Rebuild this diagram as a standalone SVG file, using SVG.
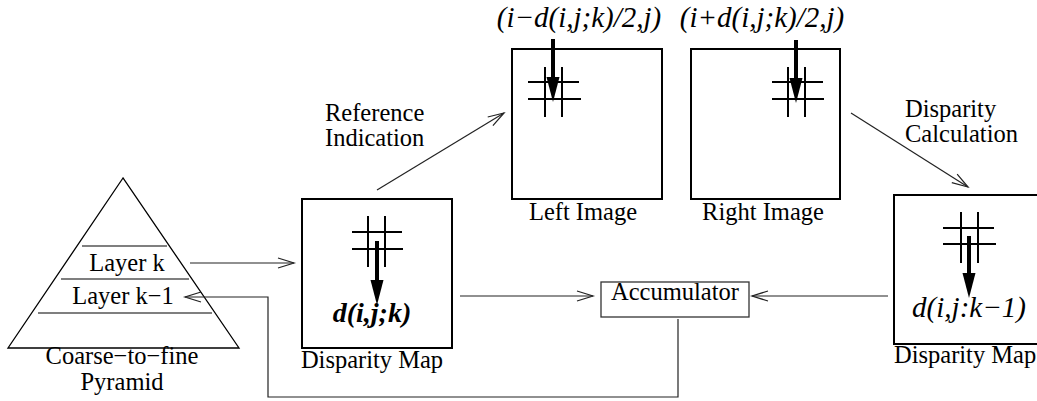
<svg xmlns="http://www.w3.org/2000/svg" width="1037" height="401" viewBox="0 0 1037 401">
<style>
text{font-family:"Liberation Serif","Times New Roman",serif;fill:#000}
.lbl{font-size:24.5px}
.mid{text-anchor:middle}
.it{font-style:italic;font-size:29px}
.bi{font-style:italic;font-weight:bold;font-size:28px}
.box{fill:#fff;stroke:#000;stroke-width:2}
.grid{stroke:#000;stroke-width:2}
.thick{stroke:#000;stroke-width:4;marker-end:url(#fat)}
.conn{fill:none;stroke:#222;stroke-width:1.2}
.arr{marker-end:url(#open)}
.gray{stroke:#555;stroke-width:1.5;fill:none}
</style>
<defs>
<marker id="open" markerUnits="userSpaceOnUse" viewBox="-18 -7 20 14" markerWidth="20" markerHeight="14" refX="0" refY="0" orient="auto" overflow="visible">
<path d="M-16,-5 L0,0 L-16,5" fill="none" stroke="#222" stroke-width="1.2"/>
</marker>
<marker id="fat" markerUnits="userSpaceOnUse" viewBox="0 -8 26 16" markerWidth="26" markerHeight="16" refX="2" refY="0" orient="auto" overflow="visible">
<path d="M0,-6.5 L25,0 L0,6.5 Z" fill="#000"/>
</marker>
</defs>

<g id="pyramid">
<polygon points="123,178 8,348 239,348" fill="none" stroke="#000" stroke-width="1.3"/>
<line class="gray" x1="82" y1="246" x2="167" y2="246"/>
<line class="gray" x1="61" y1="279" x2="189" y2="279"/>
<line class="gray" x1="38" y1="313" x2="212" y2="313"/>
<text class="lbl mid" x="127" y="271">Layer k</text>
<text class="lbl mid" x="123" y="304">Layer k−1</text>
<text class="lbl mid" x="122" y="364">Coarse−to−fine</text>
<text class="lbl mid" x="122" y="390">Pyramid</text>
</g>

<g id="disparity-map-k">
<rect class="box" x="302" y="199" width="150" height="149"/>
<line class="grid" x1="368" y1="216" x2="368" y2="267"/>
<line class="grid" x1="385" y1="216" x2="385" y2="267"/>
<line class="grid" x1="352" y1="232" x2="402" y2="232"/>
<line class="grid" x1="352" y1="249" x2="403" y2="249"/>
<line class="thick" x1="377" y1="241" x2="377" y2="282"/>
<text class="bi mid" x="372" y="322">d(i,j;k)</text>
<text class="lbl mid" x="372" y="368">Disparity Map</text>
</g>

<g id="left-image">
<rect class="box" x="512" y="49" width="150" height="150"/>
<line class="grid" x1="545" y1="67" x2="545" y2="117"/>
<line class="grid" x1="562" y1="67" x2="562" y2="117"/>
<line class="grid" x1="528" y1="82" x2="579" y2="82"/>
<line class="grid" x1="528" y1="99" x2="581" y2="99"/>
<line class="thick" x1="553" y1="39" x2="553" y2="79"/>
<text class="it mid" x="579" y="27">(i−d(i,j;k)/2,j)</text>
<text class="lbl mid" x="583" y="220">Left Image</text>
</g>

<g id="right-image">
<rect class="box" x="691" y="49" width="149" height="150"/>
<line class="grid" x1="788" y1="67" x2="788" y2="117"/>
<line class="grid" x1="805" y1="67" x2="805" y2="117"/>
<line class="grid" x1="772" y1="82" x2="823" y2="82"/>
<line class="grid" x1="772" y1="99" x2="824" y2="99"/>
<line class="thick" x1="796" y1="40" x2="796" y2="80"/>
<text class="it mid" x="762" y="27">(i+d(i,j;k)/2,j)</text>
<text class="lbl mid" x="763" y="220">Right Image</text>
</g>

<g id="disparity-map-k-1">
<rect class="box" x="894" y="195" width="152" height="149"/>
<line class="grid" x1="961" y1="212" x2="961" y2="263"/>
<line class="grid" x1="978" y1="212" x2="978" y2="263"/>
<line class="grid" x1="943" y1="228" x2="994" y2="228"/>
<line class="grid" x1="943" y1="244" x2="996" y2="244"/>
<line class="thick" x1="969" y1="236" x2="969" y2="275"/>
<text class="it mid" x="969" y="317">d(i,j:k−1)</text>
<text class="lbl" x="894" y="363">Disparity Map</text>
</g>

<g id="accumulator">
<rect x="601" y="282" width="148" height="35" fill="#fff" stroke="#333" stroke-width="1.3"/>
<text class="lbl mid" x="675" y="300">Accumulator</text>
</g>

<g id="labels">
<text class="lbl" x="325" y="121">Reference</text>
<text class="lbl" x="325" y="146">Indication</text>
<text class="lbl" x="905" y="117">Disparity</text>
<text class="lbl" x="905" y="142">Calculation</text>
</g>

<g id="connectors">
<path class="conn arr" d="M190,263 L294,263"/>
<path class="conn arr" d="M377,190 L504,113"/>
<path class="conn arr" d="M851,113 L968,187"/>
<path class="conn arr" d="M460,296 L593,296"/>
<path class="conn arr" d="M888,296 L752,296"/>
<path class="conn arr" d="M678,319 L678,397 L268,397 L268,297 L185,297"/>
</g>
</svg>
